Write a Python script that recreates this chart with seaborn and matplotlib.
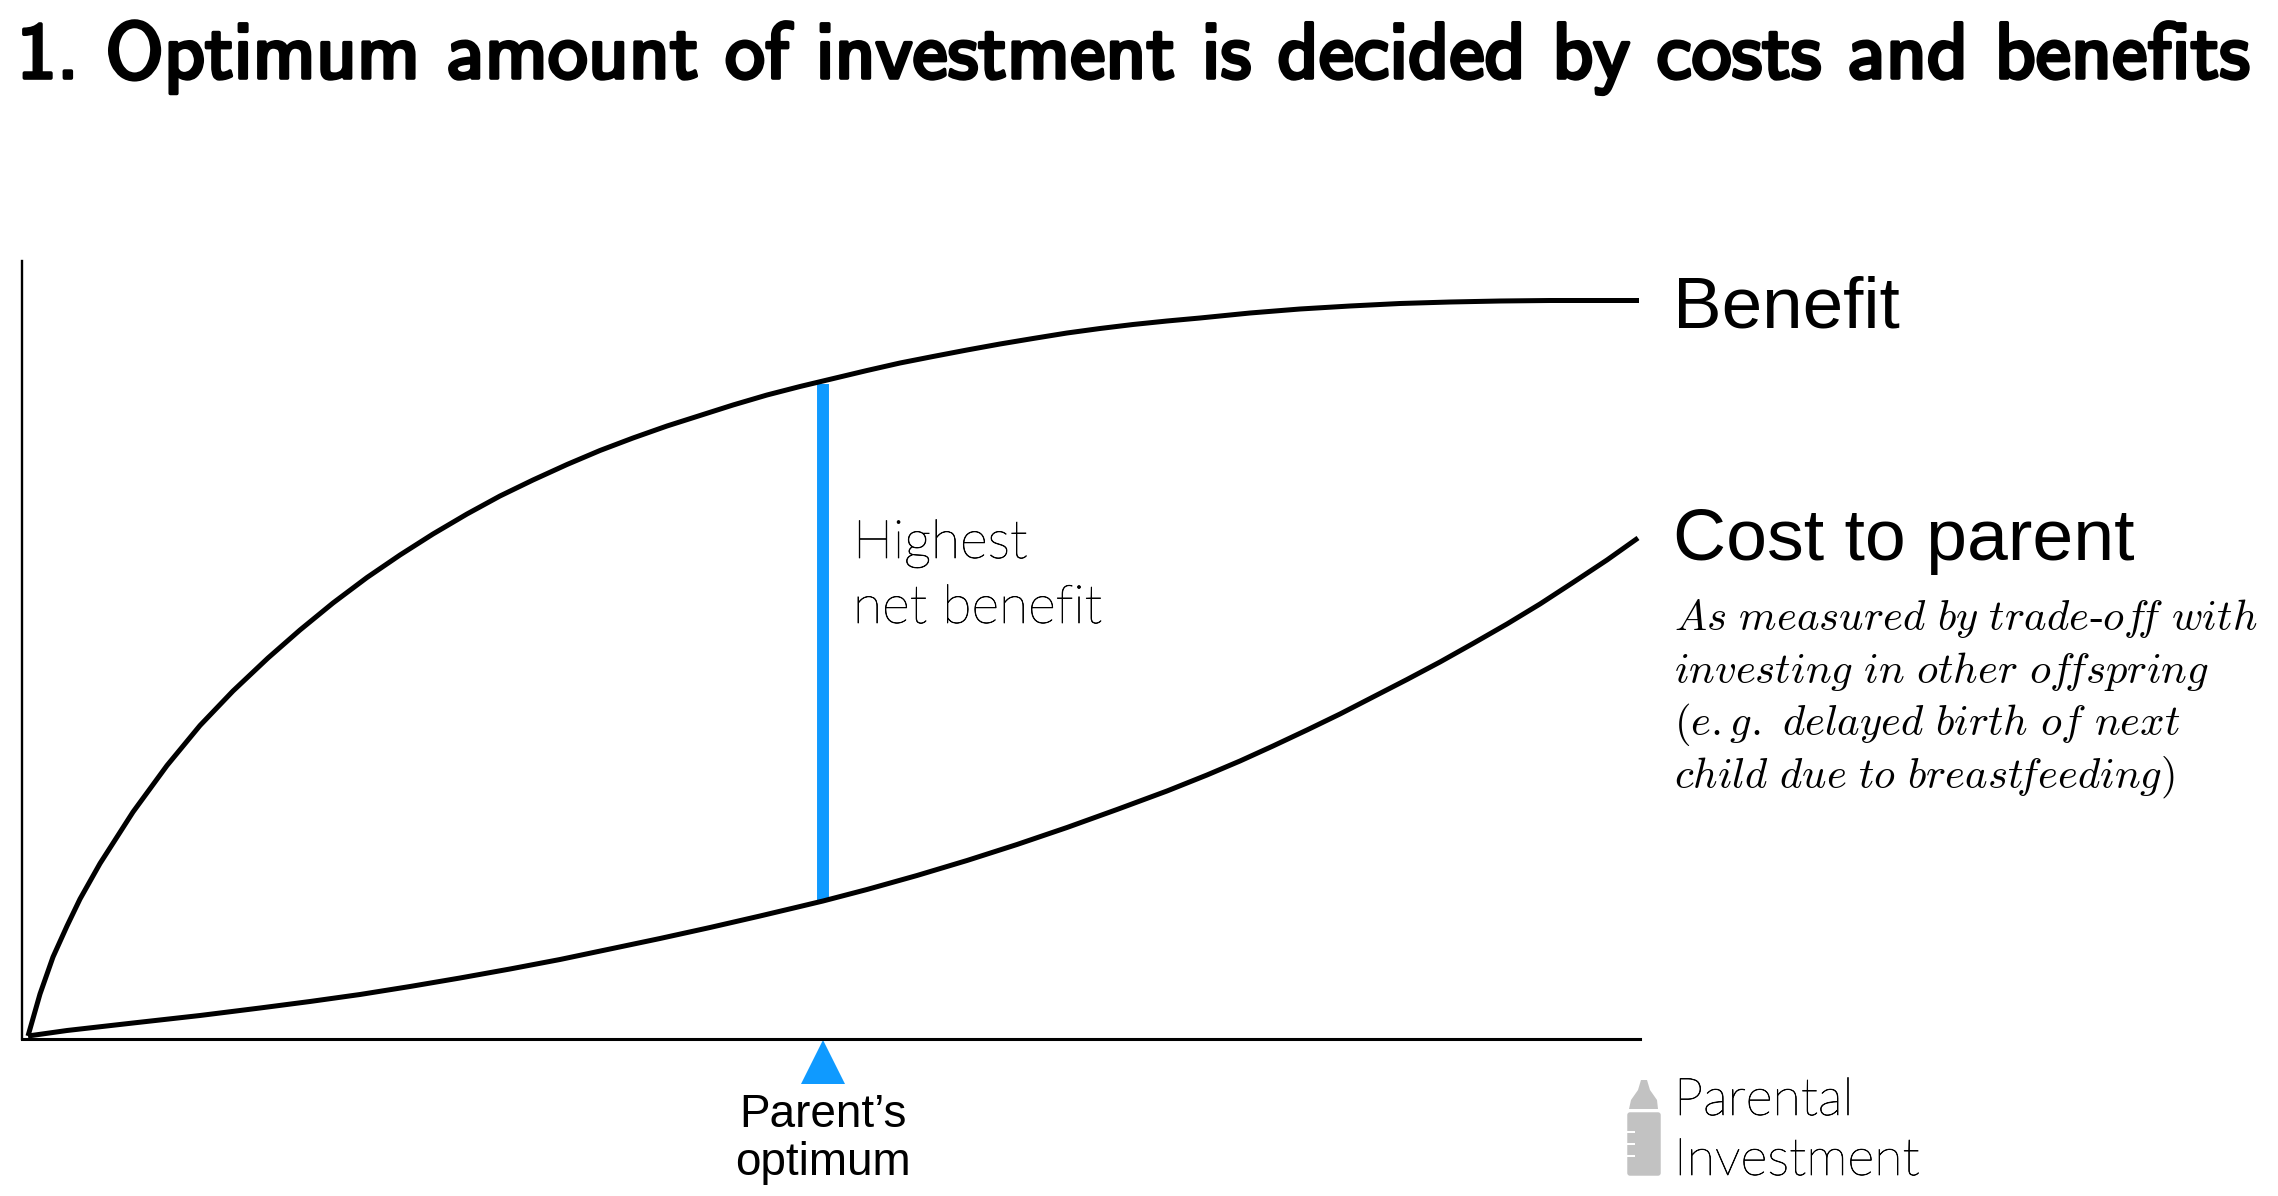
import pandas as pd
import matplotlib.pyplot as plt
import matplotlib.patheffects as pe
from matplotlib.patches import FancyBboxPatch, Polygon, Rectangle
import seaborn as sns

# values, measured from the origin of the axes
benefit_x = [6, 18, 31, 45, 58, 78, 111, 145, 178, 211, 246, 278, 311, 345, 378, 411, 445, 478, 511, 545, 578,
             611, 645, 678, 711, 745, 778, 801, 845, 878, 911, 945, 978, 1011, 1045, 1078, 1111, 1145, 1178,
             1228, 1278, 1328, 1378, 1428, 1478, 1528, 1578, 1617]
benefit_y = [3, 45, 82, 113, 140, 175.5, 227, 273.5, 313.5, 348, 381, 409, 436, 461.5, 484, 505, 525, 543, 559, 574.5, 588.5,
             601, 613, 623.5, 634, 644, 652.5, 658, 668.5, 676, 682.5, 689, 695, 700.5, 706, 710.5, 714.5, 718, 721,
             726, 730, 733, 735.5, 737, 738, 738.5, 738.5, 738.5]
cost_x = [6, 45, 111, 178, 238, 288, 338, 388, 438, 488, 538, 588, 638, 688, 738, 778, 801, 845, 895, 945,
          995, 1045, 1095, 1145, 1185, 1218, 1251, 1285, 1318, 1351, 1385, 1418, 1451, 1485, 1518, 1551,
          1585, 1616]
cost_y = [3, 8.5, 16, 23.5, 31, 37.5, 44.5, 52.5, 61, 70, 79.5, 90, 100.5, 111.5, 123, 132.5, 138, 149.5, 163.5, 178.5,
          194.5, 211.5, 229.5, 248, 264, 278, 293, 309, 325, 342, 359.5, 377, 395.5, 415, 435, 456.5,
          479, 501]
optimum_x = 801
optimum_top = 655
optimum_bottom = 138

note_lines = [r"$\mathit{As\ measured\ by\ trade}$-$\mathit{of\!f\ with}$",
              r"$\mathit{investing\ in\ other\ of\!fspring}$",
              r"$\mathit{(e.g.\ delayed\ birth\ of\ next}$",
              r"$\mathit{child\ due\ to\ breast\!feeding)}$"]

BLUE = "#0f9aff"
GREY = "#c2c2c2"
W, H = 2278, 1196
DPI = 100

sns.set_theme(style="white")
plt.rcParams["font.family"] = ["Liberation Sans", "DejaVu Sans"]
plt.rcParams["mathtext.fontset"] = "cm"

fig = plt.figure(figsize=(W / DPI, H / DPI), dpi=DPI)

ax = fig.add_axes([22 / W, (H - 1039) / H, 1618 / W, 778 / H])
ax.set_xlim(0, 1618)
ax.set_ylim(0, 778)
ax.patch.set_alpha(0)
ax.set_xticks([])
ax.set_yticks([])
sns.despine(ax=ax)
ax.spines["left"].set_color("black")
ax.spines["left"].set_linewidth(1.7)
ax.spines["bottom"].set_color("black")
ax.spines["bottom"].set_linewidth(2.2)

ax.plot([optimum_x, optimum_x], [optimum_bottom, optimum_top], color=BLUE, lw=8.6,
        solid_capstyle="butt", zorder=1)
sns.lineplot(x=benefit_x, y=benefit_y, ax=ax, color="black", linewidth=3.6, clip_on=False,
             solid_capstyle="butt", solid_joinstyle="round", zorder=3)
sns.lineplot(x=cost_x, y=cost_y, ax=ax, color="black", linewidth=3.6, clip_on=False,
             solid_capstyle="butt", solid_joinstyle="round", zorder=3)
ax.plot([optimum_x], [-23], marker="^", ms=31.7, color=BLUE, mew=0, clip_on=False, ls="none")


def px(x, y):
    return x / W, 1 - y / H


# title: no bold computer modern sans here, so thicken cmss10 with a stroke
title = fig.text(*px(17, 78), "1. Optimum amount of investment is decided by costs and benefits",
                 fontsize=57.3, family="cmss10", color="black", va="baseline", ha="left")
title.set_path_effects([pe.withStroke(linewidth=2.6, foreground="black")])

fig.text(*px(1673, 327), "Benefit", fontsize=52.5, va="baseline", color="black")
fig.text(*px(1673, 560), "Cost to parent", fontsize=52.8, va="baseline", color="black")

for i, line in enumerate(note_lines):
    fig.text(*px(1674, 630 + i * 52.6), line, fontsize=30.8, va="baseline", color="black",
             family=["Liberation Serif", "DejaVu Serif"])

LIGHT = dict(family="Lato", fontweight="light", color="black", va="baseline",
             path_effects=[pe.withStroke(linewidth=0.5, foreground="black")])
fig.text(*px(853, 558), "Highest", fontsize=38.5, **LIGHT)
fig.text(*px(853, 623), "net benefit", fontsize=38.5, **LIGHT)
fig.text(*px(1674, 1115), "Parental", fontsize=37.5, **LIGHT)
fig.text(*px(1674, 1175), "Investment", fontsize=37.5, **LIGHT)

fig.text(*px(823, 1127), "Parent\u2019s", fontsize=33, ha="center", va="baseline", color="black")
fig.text(*px(823, 1175), "optimum", fontsize=33, ha="center", va="baseline", color="black")

# bottle icon next to the axis title
tf = fig.transFigure
x0, y0 = px(1630, 1173)
fig.add_artist(FancyBboxPatch((x0, y0), 28 / W, 58 / H, boxstyle="round,pad=0.0012", transform=tf,
                              color=GREY, lw=0, mutation_aspect=W / H))
fig.add_artist(Polygon([px(1629, 1109), px(1658, 1109), px(1657, 1100), px(1650, 1090), px(1647, 1080),
                        px(1641, 1080), px(1638, 1090), px(1631, 1100)], transform=tf, color=GREY, lw=0))
for tick_y in [1133, 1145, 1157]:
    fig.add_artist(Rectangle(px(1627, tick_y), 8 / W, 2 / H, transform=tf, color="white", lw=0))

fig.savefig("out.png", dpi=DPI, facecolor="white")
